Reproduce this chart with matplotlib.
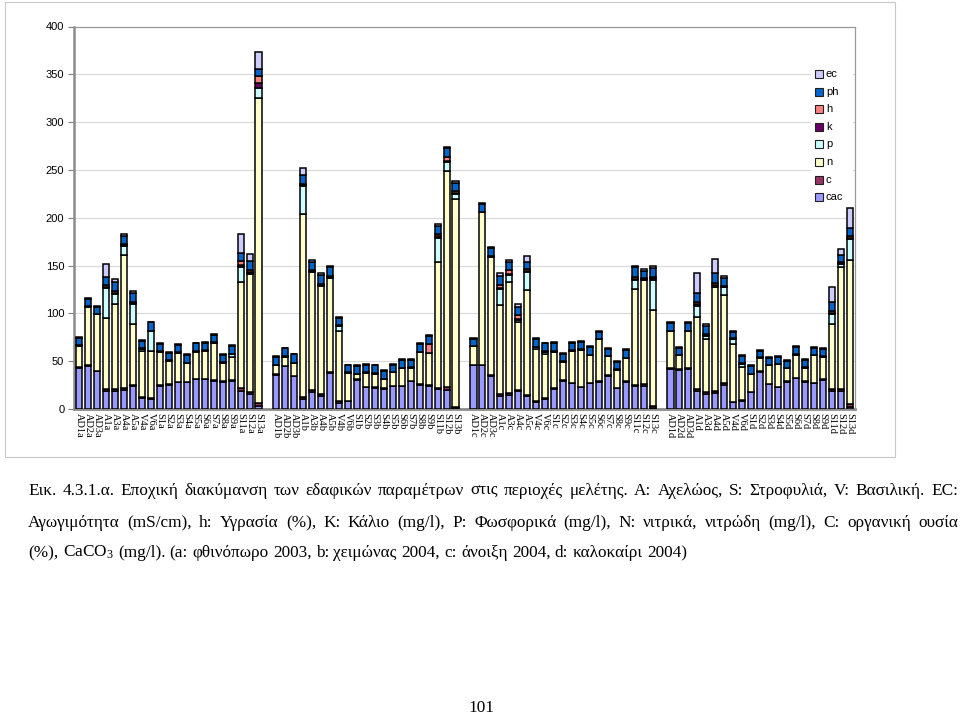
import matplotlib
matplotlib.use('Agg')
import matplotlib.pyplot as plt
from matplotlib.patches import Rectangle

# ---------------- data ----------------
sites = ['AD1', 'AD2', 'AD3', 'A1', 'A3', 'A4', 'A5', 'V4', 'V6', 'S1', 'S2', 'S3',
         'S4', 'S5', 'S6', 'S7', 'S8', 'S9', 'S11', 'S12', 'S13']
seasons = ['a', 'b', 'c', 'd']
categories = [s + t for t in seasons for s in sites]

cac = [43, 45, 39.5, 18.5, 18.5, 20, 24, 11.5, 10.5, 24.5, 25.5, 28, 28, 31, 31, 29.5, 28.5, 29.5, 19, 16, 3.5,
       36, 44.8, 34, 10.5, 18, 14, 38, 6, 8, 30.8, 22.7, 22, 21.3, 23.8, 23.8, 29, 25.5, 24.5, 21.3, 20, 1,
       45.5, 46, 35, 14, 14.7, 19, 14, 7, 10.5, 21, 29.7, 27, 22.7, 27, 28.7, 35, 21.7, 28.7, 24.5, 24, 1,
       42, 41, 42, 19, 15.7, 16.4, 25, 7, 8.7, 17.5, 39, 26, 22.7, 28.7, 32, 28.7, 27, 30.4, 19, 18.5, 1.7]
c = [0.5, 0.5, 0.5, 2, 2, 2, 1, 1, 1, 0.5, 0.5, 0.5, 0.5, 0.5, 0.5, 0.5, 0.5, 0.5, 3, 2, 3,
     0.5, 0.5, 0.5, 2.5, 2, 2, 0.5, 2, 0.5, 0.5, 0.5, 0.5, 0.5, 0.5, 0.5, 0.5, 0.5, 0.5, 1, 3.5, 1,
     0.5, 0.5, 0.5, 2, 2.5, 1, 1, 1, 0.5, 0.5, 0.5, 0.5, 0.5, 0.5, 0.5, 0.5, 0.5, 0.5, 0.5, 2.5, 2.5,
     0.5, 0.5, 0.5, 2, 2, 2, 2, 0.5, 0.5, 0.5, 0.5, 0.5, 0.5, 0.5, 0.5, 0.5, 0.5, 0.5, 2, 2, 3.5]
n = [22.5, 61.5, 59, 75, 89.5, 139, 64, 48.5, 49, 34.5, 24.5, 30, 19.5, 28.5, 29.5, 39, 19.5, 24, 111, 123, 319,
     9, 9.5, 13.5, 191, 123, 113, 98.5, 73.5, 29, 5, 14.5, 14.5, 9.5, 14, 18.5, 13.5, 33.5, 33.5, 131, 225.5, 218,
     19.5, 159.5, 123.5, 93, 116, 71, 109, 55, 47, 38.5, 19, 33.5, 39, 28.5, 43.5, 19.5, 19, 24, 100, 108, 100.5,
     39, 14.5, 39, 75, 55.5, 109, 92, 60, 34.5, 18.5, 14, 19, 23.5, 13.5, 24, 14, 28.5, 24, 68, 128, 150.5]
p = [0, 0, 0, 31.5, 10.5, 9, 21, 2, 21, 0.5, 0.5, 0.5, 0, 0.5, 0.5, 0.5, 0, 3, 16, 1.5, 10.5,
     0, 0, 0, 29, 0.5, 0.5, 0.5, 5, 0.5, 0, 0, 0, 0, 0, 0, 0, 0, 0.5, 26, 9, 4.5,
     0, 0, 0, 16, 7, 2, 19, 1.5, 2, 0, 0, 0, 0, 0, 0, 0, 0, 0, 9.5, 0.5, 31,
     0, 0, 0, 12, 3.5, 0.5, 8.5, 6, 3.5, 0, 0, 0, 0, 0, 0, 0, 0, 0, 10.5, 3.5, 22.5]
k = [0, 0, 0, 1, 1, 1, 0.5, 0, 0, 0, 0, 0, 0, 0, 0, 0, 0, 0, 2, 1, 4.5,
     0, 0, 0, 1, 0.5, 0.5, 0.5, 0.5, 0, 0, 0, 0, 0, 0, 0, 0, 0, 0, 1.5, 1, 1.5,
     0, 0, 0, 1.5, 1, 1, 1, 0, 0, 0, 0, 0, 0, 0, 0, 0, 0, 0, 1.5, 1, 1.5,
     0, 0, 0, 1.5, 0.5, 1.5, 0.5, 0, 0, 0, 0, 0, 0, 0, 0, 0, 0, 0, 1, 0.5, 1]
h = [0.5, 0.5, 0.5, 1.5, 1.5, 1.5, 1, 0.5, 0.5, 0.5, 0.5, 0.5, 0.5, 0.5, 0.5, 0.5, 0.5, 0.5, 4, 2, 7.5,
     0.5, 0.5, 0.5, 1.5, 1, 1, 1, 1, 0.5, 0.2, 0.5, 0.5, 0.5, 0.5, 0.5, 0.5, 0.5, 9, 2, 5, 2,
     0.5, 0.5, 0.5, 3, 4, 4, 2, 0.5, 0.5, 0.5, 0.5, 0.5, 0.5, 0.5, 0.5, 0.5, 0.5, 0.5, 2, 1, 1.5,
     0.5, 0.5, 0.5, 2.5, 1, 2, 1, 0.5, 0.5, 0.5, 0.5, 0.5, 0.5, 0.5, 0.5, 0.5, 0.5, 0.5, 1.5, 1.5, 2]
ph = [7.5, 7.5, 7.5, 8.5, 10, 8.5, 9.5, 8, 8.5, 7.5, 7.5, 7.5, 7.5, 7.5, 7.5, 7.5, 7.5, 8.5, 8, 9, 7.5,
      8, 8, 8.5, 9, 9, 9.5, 9, 7, 7, 8, 8, 8, 7.5, 7.5, 8, 8, 8, 8, 9, 8.5, 8.5,
      7.5, 7.5, 8.5, 9.5, 8.5, 8.5, 8, 8, 8, 8.5, 7.5, 7.5, 7.5, 8, 7.5, 7.5, 7.5, 8.5, 10.5, 7.5, 9,
      8, 7.5, 7.5, 9, 9, 10.5, 7.5, 7, 7.5, 7.5, 7, 7, 7.5, 7.5, 8, 7.5, 7.5, 7.5, 10, 7.5, 8]
ec = [1, 1, 1, 13.5, 3, 2, 2, 1, 1, 1, 1, 0.5, 1, 1, 1, 1, 1, 1, 20, 8, 17.5,
      1, 1, 1, 8, 2, 2, 2, 1.5, 1, 1, 1, 1, 1, 1, 1, 1, 1, 1, 2, 1, 1.5,
      1, 1, 1, 3.5, 2, 3.5, 6, 1, 1, 1, 1, 1, 0.5, 1, 1, 1, 1, 1, 1.5, 2, 3,
      1, 1, 1, 21, 2, 15, 3, 1, 1, 1, 1, 1, 1, 1, 1, 1, 1, 1, 16, 6, 21]

series_names = ['cac', 'c', 'n', 'p', 'k', 'h', 'ph', 'ec']
series_values = [cac, c, n, p, k, h, ph, ec]
series_colors = ['#9999FF', '#993366', '#FFFFCC', '#CCFFFF', '#660066', '#FF8080', '#0066CC', '#CCCCFF']

for v in series_values:
    assert len(v) == len(categories), len(v)

# ---------------- figure ----------------
W, H = 960, 715
fig = plt.figure(figsize=(W / 100, H / 100), dpi=100)
fig.patch.set_facecolor('white')

# outer chart border
fig.patches.append(Rectangle((5 / W, 1 - 457 / H), 890 / W, 455 / H, transform=fig.transFigure,
                             fill=False, edgecolor='#c8c8c8', lw=0.8))

ax = fig.add_axes([74 / W, 1 - 409 / H, (855 - 74) / W, (409 - 26.5) / H])

npos = len(sites) + 1
positions = [si * npos + j for si in range(len(seasons)) for j in range(len(sites))]

bottom = [0.0] * len(categories)
for name, vals, col in zip(series_names, series_values, series_colors):
    ax.bar(positions, vals, width=0.68, bottom=bottom, color=col, edgecolor='black',
           linewidth=1.1, zorder=3, label=name)
    bottom = [b + v for b, v in zip(bottom, vals)]

ax.set_xlim(-0.6, len(seasons) * npos - 1 - 0.4)
ax.set_ylim(0, 400)
ax.set_yticks(range(0, 401, 50))
ax.yaxis.grid(True, color='#d9d9d9', lw=0.8, zorder=0)
ax.set_axisbelow(True)
for lab in ax.get_yticklabels():
    lab.set_fontfamily('Liberation Sans')
    lab.set_fontsize(8)
ax.tick_params(axis='y', length=4, width=0.8, color='#808080', pad=3)

ax.set_xticks(positions)
ax.set_xticklabels(categories, rotation=-90, fontsize=7.5, family='Liberation Serif',
                   va='top', ha='center')
ax.tick_params(axis='x', length=0, pad=3)

for side in ['top', 'right']:
    ax.spines[side].set_color('#9a9a9a')
    ax.spines[side].set_linewidth(0.9)
ax.spines['left'].set_color('#8c8c8c')
ax.spines['left'].set_linewidth(1.8)
ax.spines['bottom'].set_color('#8c8c8c')
ax.spines['bottom'].set_linewidth(2.0)

# legend (drawn manually, order reversed as in the reference)
fig.patches.append(Rectangle((811 / W, 1 - 206 / H), 42 / W, 142 / H, transform=fig.transFigure,
                             facecolor='white', edgecolor='none', zorder=2))
leg_y0 = 74
leg_dy = 17.6
for i, (name, col) in enumerate(zip(series_names[::-1], series_colors[::-1])):
    yc = leg_y0 + i * leg_dy
    fig.patches.append(Rectangle((815 / W, 1 - (yc + 4) / H), 8 / W, 8 / H, transform=fig.transFigure,
                                 facecolor=col, edgecolor='#202020', lw=0.8, zorder=3))
    fig.text(826 / W, 1 - yc / H, name, fontsize=8, family='Liberation Sans', va='center',
             ha='left', zorder=4)

# ---------------- caption ----------------
cap_font = 'Liberation Serif'
L1 = "Εικ. 4.3.1.α. Εποχική διακύμανση των εδαφικών παραμέτρων στις περιοχές μελέτης. A: Αχελώος, S: Στροφυλιά, V: Βασιλική. EC:"
L2 = "Αγωγιμότητα (mS/cm), h: Υγρασία (%), K: Κάλιο (mg/l), P: Φωσφορικά (mg/l), N: νιτρικά, νιτρώδη (mg/l), C: οργανική ουσία"
L3 = "(%), CaCO$_\\mathrm{3}$ (mg/l). (a: φθινόπωρο 2003, b: χειμώνας 2004, c: άνοιξη 2004, d: καλοκαίρι 2004)"
plt.rcParams['mathtext.fontset'] = 'custom'
plt.rcParams['mathtext.rm'] = cap_font
plt.rcParams['mathtext.it'] = cap_font + ':italic'

fig.canvas.draw()
r = fig.canvas.get_renderer()


def text_w(s, fs):
    t = fig.text(0, 0, s, fontsize=fs, family=cap_font)
    w = t.get_window_extent(r).width
    t.remove()
    return w


base_fs = 12.0
words3 = L3.split(' ')
w3 = sum(text_w(w, base_fs) for w in words3) + (len(words3) - 1) * (text_w('x x', base_fs) - text_w('xx', base_fs))
fs = base_fs * 660.0 / w3
space = text_w('x x', fs) - text_w('xx', fs)


def place(line, y_base, x0, x1=None):
    words = line.split(' ')
    ts = [fig.text(0, 0, w, fontsize=fs, family=cap_font, va='baseline', ha='left') for w in words]
    ws = [t.get_window_extent(r).width for t in ts]
    gap = space if x1 is None else (x1 - x0 - sum(ws)) / (len(words) - 1)
    x = x0
    for t, w in zip(ts, ws):
        t.set_position((x / W, 1 - y_base / H))
        x += w + gap


place(L1, 495, 28, 958)
place(L2, 527, 28, 958)
place(L3, 557, 28)
fig.text(481 / W, 1 - 712 / H, '101', fontsize=fs, family=cap_font, va='baseline', ha='center')

fig.savefig('out.png', dpi=100)
